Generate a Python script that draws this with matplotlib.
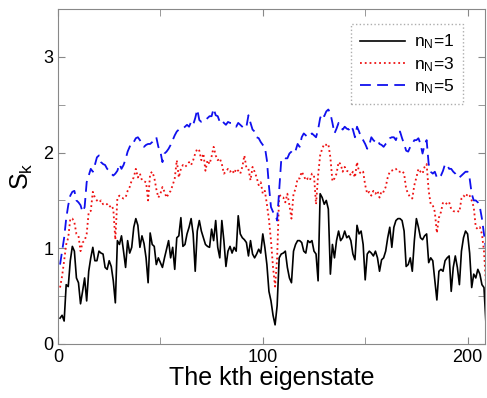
import matplotlib
matplotlib.use('Agg')
import matplotlib.pyplot as plt
import numpy as np
from matplotlib.ticker import MultipleLocator

plt.rcParams['font.family'] = ['Liberation Sans', 'DejaVu Sans']
plt.rcParams['mathtext.fontset'] = 'custom'
plt.rcParams['mathtext.rm'] = 'Liberation Sans'
plt.rcParams['mathtext.it'] = 'Liberation Sans:italic'

# S_k, k = 1 .. 209
s_n1 = [0.27, 0.30, 0.24, 0.62, 0.60, 0.87, 1.02, 0.97, 0.69, 0.64,
        0.42, 0.55, 0.69, 0.45, 0.76, 0.90, 1.01, 0.87, 0.87, 0.97,
        0.95, 0.94, 0.80, 0.78, 0.87, 0.81, 0.66, 0.43, 1.08, 1.04,
        1.13, 0.97, 0.80, 1.08, 0.95, 1.01, 1.22, 1.31, 1.24, 1.01,
        1.13, 1.05, 0.90, 0.64, 1.16, 1.04, 1.02, 0.83, 0.90, 0.85,
        0.80, 0.90, 0.99, 1.08, 0.90, 1.01, 0.78, 1.11, 1.13, 1.32,
        1.02, 1.04, 1.15, 1.22, 1.31, 1.15, 0.76, 1.18, 1.29, 1.18,
        1.11, 1.04, 1.02, 1.01, 1.20, 1.08, 1.29, 1.01, 0.90, 1.29,
        1.08, 0.81, 0.97, 1.02, 0.95, 1.01, 0.97, 1.34, 1.15, 1.11,
        1.09, 1.06, 0.92, 1.08, 0.94, 0.90, 0.94, 0.99, 0.95, 1.15,
        1.01, 0.83, 0.55, 0.45, 0.30, 0.20, 0.40, 0.90, 0.94, 0.95,
        0.97, 0.80, 0.69, 0.64, 0.97, 1.04, 1.08, 1.08, 1.06, 0.97,
        0.95, 1.08, 1.06, 1.08, 0.97, 0.94, 0.66, 1.57, 1.53, 1.46,
        1.50, 1.41, 0.73, 1.04, 0.90, 1.08, 1.18, 1.08, 1.11, 1.18,
        1.11, 1.13, 1.08, 0.94, 0.88, 1.24, 1.15, 1.18, 1.04, 0.67,
        0.94, 0.97, 0.95, 0.92, 0.97, 0.90, 0.76, 0.88, 0.90, 0.97,
        1.11, 1.22, 1.01, 1.22, 1.29, 1.31, 1.31, 1.29, 1.18, 0.81,
        0.83, 0.90, 0.76, 1.08, 1.31, 1.22, 1.11, 1.09, 1.13, 1.15,
        0.85, 0.90, 0.87, 0.66, 0.46, 0.76, 0.78, 0.76, 0.87, 0.90,
        0.92, 0.55, 0.80, 0.92, 0.80, 0.62, 0.97, 1.11, 1.18, 1.15,
        0.95, 0.59, 0.73, 0.69, 0.78, 0.73, 0.62, 0.59, 0.20]

s_n3 = [0.59, 0.71, 0.87, 1.04, 1.11, 1.31, 1.31, 1.27, 1.15, 1.13,
        0.97, 1.06, 1.08, 1.15, 1.38, 1.39, 1.59, 1.53, 1.50, 1.48,
        1.50, 1.46, 1.47, 1.46, 1.43, 1.45, 1.41, 1.09, 1.53, 1.55,
        1.53, 1.52, 1.53, 1.60, 1.64, 1.71, 1.74, 1.83, 1.74, 1.78,
        1.71, 1.70, 1.69, 1.50, 1.78, 1.80, 1.74, 1.62, 1.53, 1.57,
        1.64, 1.59, 1.53, 1.57, 1.60, 1.66, 1.73, 1.92, 1.74, 1.83,
        1.87, 1.85, 1.87, 1.90, 1.87, 1.92, 1.99, 2.04, 2.02, 1.92,
        1.99, 1.81, 1.92, 1.88, 1.96, 2.06, 1.97, 1.92, 1.94, 1.88,
        1.78, 1.80, 1.83, 1.80, 1.82, 1.78, 1.83, 1.81, 1.78, 1.85,
        1.97, 1.84, 1.83, 1.71, 1.85, 1.80, 1.74, 1.66, 1.69, 1.57,
        1.60, 1.46, 1.30, 1.08, 0.80, 0.60, 0.90, 1.57, 1.53, 1.53,
        1.48, 1.57, 1.45, 1.31, 1.57, 1.62, 1.73, 1.73, 1.80, 1.76,
        1.71, 1.73, 1.71, 1.78, 1.76, 1.46, 1.76, 1.97, 2.04, 2.09,
        2.08, 2.09, 1.95, 1.70, 1.73, 1.78, 1.90, 1.88, 1.80, 1.85,
        1.81, 1.80, 1.76, 1.80, 1.74, 1.90, 1.80, 1.78, 1.80, 1.66,
        1.57, 1.59, 1.55, 1.60, 1.57, 1.60, 1.53, 1.60, 1.59, 1.64,
        1.74, 1.80, 1.81, 1.83, 1.83, 1.80, 1.80, 1.81, 1.78, 1.62,
        1.57, 1.53, 1.52, 1.66, 1.74, 1.83, 1.80, 1.78, 1.85, 1.88,
        1.60, 1.46, 1.45, 1.38, 1.16, 1.32, 1.38, 1.48, 1.48, 1.46,
        1.48, 1.41, 1.39, 1.38, 1.39, 1.38, 1.52, 1.55, 1.53, 1.57,
        1.55, 1.50, 1.43, 1.22, 1.20, 1.22, 1.15, 0.97, 0.62]

s_n5 = [0.83, 0.97, 1.11, 1.31, 1.45, 1.55, 1.59, 1.60, 1.50, 1.48,
        1.45, 1.38, 1.43, 1.69, 1.76, 1.83, 1.80, 1.87, 1.95, 1.97,
        1.90, 1.88, 1.87, 1.83, 1.81, 1.78, 1.76, 1.78, 1.81, 1.88,
        1.83, 1.87, 1.93, 2.01, 2.06, 2.11, 2.11, 2.15, 2.16, 2.13,
        2.09, 2.06, 2.08, 2.09, 2.09, 2.11, 2.15, 2.16, 2.06, 2.01,
        1.90, 1.99, 2.01, 2.04, 2.08, 2.13, 2.18, 2.22, 2.24, 2.25,
        2.25, 2.27, 2.29, 2.27, 2.32, 2.29, 2.36, 2.45, 2.34, 2.32,
        2.32, 2.34, 2.36, 2.38, 2.38, 2.46, 2.39, 2.38, 2.32, 2.34,
        2.31, 2.29, 2.32, 2.31, 2.31, 2.29, 2.27, 2.31, 2.29, 2.27,
        2.25, 2.27, 2.39, 2.31, 2.24, 2.22, 2.16, 2.15, 2.11, 2.08,
        2.06, 1.92, 1.65, 1.43, 1.38, 1.36, 1.29, 1.60, 1.92, 1.95,
        1.94, 1.94, 1.99, 2.01, 2.04, 2.02, 2.09, 2.06, 2.16, 2.20,
        2.18, 2.16, 2.18, 2.20, 2.18, 2.16, 2.24, 2.36, 2.41, 2.38,
        2.43, 2.45, 2.41, 2.31, 2.20, 2.25, 2.31, 2.27, 2.24, 2.27,
        2.25, 2.24, 2.28, 2.24, 2.16, 2.27, 2.22, 2.16, 2.13, 2.09,
        2.04, 2.08, 2.16, 2.13, 2.11, 2.13, 2.09, 2.08, 2.06, 2.09,
        2.11, 2.15, 2.16, 2.16, 2.13, 2.20, 2.22, 2.15, 2.09, 2.02,
        2.01, 2.06, 2.09, 2.13, 2.13, 2.15, 2.09, 1.99, 2.08, 2.13,
        1.88, 1.80, 1.78, 1.80, 1.74, 1.73, 1.76, 1.81, 1.88, 1.87,
        1.83, 1.83, 1.80, 1.78, 1.74, 1.74, 1.76, 1.78, 1.80, 1.80,
        1.73, 1.57, 1.50, 1.50, 1.48, 1.43, 1.31, 1.15, 0.99]

labels = [r'n$_{\rm N}$=1', r'n$_{\rm N}$=3', r'n$_{\rm N}$=5']

fig = plt.figure(figsize=(4.87, 3.98), dpi=100)
ax = fig.add_axes([58/487, 54/398, 427/487, 335/398])

ax.plot(np.arange(1, len(s_n1) + 1), s_n1, color='black', lw=1.2, label=labels[0])
ax.plot(np.arange(1, len(s_n3) + 1), s_n3, color='#ee1111', lw=1.3, ls=':', label=labels[1])
ax.plot(np.arange(1, len(s_n5) + 1), s_n5, color='#1010ee', lw=1.3, ls=(0, (6, 3.5)), label=labels[2])

ax.set_xlim(0, 208.5)
ax.set_ylim(0, 3.5)
ax.xaxis.set_major_locator(MultipleLocator(100))
ax.xaxis.set_minor_locator(MultipleLocator(50))
ax.yaxis.set_major_locator(MultipleLocator(1))
ax.yaxis.set_minor_locator(MultipleLocator(0.5))
ax.tick_params(which='both', direction='in', top=True, right=True,
               color='#888888', labelsize=13)
ax.tick_params(which='major', length=5)
ax.tick_params(which='minor', length=5)
for sp in ax.spines.values():
    sp.set_color('#888888')

ax.set_xlabel('The kth eigenstate', fontsize=18, labelpad=0)
ax.set_ylabel(r'S$_{\rm k}$', fontsize=18, labelpad=6)

leg = ax.legend(loc='upper right', bbox_to_anchor=(0.948, 0.955), borderaxespad=0,
                fancybox=False, fontsize=12.5, handlelength=2.6, handletextpad=0.5,
                labelspacing=0.2, borderpad=0.5)
leg.get_frame().set_edgecolor('#999999')
leg.get_frame().set_linestyle(':')
leg.get_frame().set_linewidth(1.0)

fig.savefig('out.png', dpi=100)
